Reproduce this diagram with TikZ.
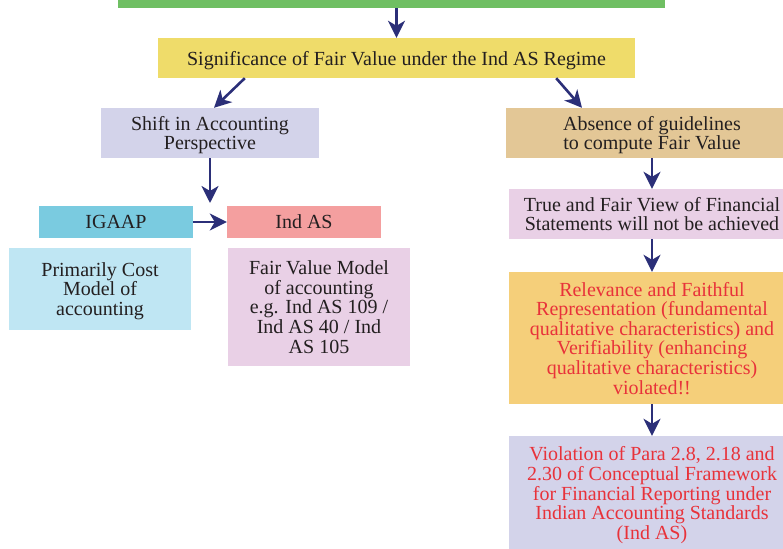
\documentclass[tikz,border=0pt]{standalone}
\usepackage{fontspec}
\setmainfont{Liberation Serif}
\usetikzlibrary{arrows.meta}
\begin{document}
\begin{tikzpicture}[x=1pt,y=-1pt,font=\fontsize{20}{19.6}\selectfont,
  box/.style={inner sep=0pt,align=center,text=inkgrey,text depth=0pt},
  redbox/.style={box,text=alertred},
  link/.style={draw=arrownavy,line width=2.6pt,-{Stealth[length=17pt,width=17pt,inset=5pt]}}]
  \definecolor{topgreen}{RGB}{111,191,99}
  \definecolor{regimegold}{RGB}{239,220,106}
  \definecolor{shiftlilac}{RGB}{211,211,234}
  \definecolor{absencetan}{RGB}{227,199,150}
  \definecolor{igaapblue}{RGB}{122,203,224}
  \definecolor{indaspink}{RGB}{244,159,159}
  \definecolor{costblue}{RGB}{191,230,243}
  \definecolor{modelmauve}{RGB}{233,208,230}
  \definecolor{relevanceorange}{RGB}{245,207,122}
  \definecolor{arrownavy}{RGB}{43,47,120}
  \definecolor{alertred}{RGB}{232,50,58}
  \definecolor{inkgrey}{RGB}{35,31,32}
  \useasboundingbox (0,0) rectangle (783,548);
  \clip (0,0) rectangle (783,548);
  \node[box,fill=topgreen,minimum width=547,minimum height=28] (topbar) at (391.5,-6) {};
  \node[box,fill=regimegold,minimum width=477,minimum height=40] (regime) at (396.5,58)
    {Significance of Fair Value under the Ind AS Regime};
  \node[box,fill=shiftlilac,minimum width=218,minimum height=50] (shift) at (210,133)
    {Shift in Accounting\\Perspective};
  \node[box,fill=absencetan,minimum width=292,minimum height=50] (absence) at (652,133)
    {Absence of guidelines\\to compute Fair Value};
  \node[box,fill=igaapblue,minimum width=154,minimum height=32] (igaap) at (116,222) {IGAAP};
  \node[box,fill=indaspink,minimum width=154,minimum height=32] (indas) at (304,222) {Ind AS};
  \node[box,fill=costblue,minimum width=182,minimum height=82] (cost) at (100,289)
    {Primarily Cost\\Model of\\accounting};
  \node[box,fill=modelmauve,minimum width=182,minimum height=118] (fvmodel) at (319,307)
    {Fair Value Model\\of accounting\\e.g. Ind AS 109 /\\Ind AS 40 / Ind\\AS 105};
  \node[box,fill=modelmauve,minimum width=286,minimum height=50] (truefair) at (652,214)
    {True and Fair View of Financial\\Statements will not be achieved};
  \node[redbox,fill=relevanceorange,minimum width=286,minimum height=132] (relevance) at (652,338)
    {Relevance and Faithful\\Representation (fundamental\\qualitative characteristics) and\\Verifiability (enhancing\\qualitative characteristics)\\violated!!};
  \node[redbox,fill=shiftlilac,minimum width=286,minimum height=114] (violation) at (652,493)
    {Violation of Para 2.8, 2.18 and\\2.30 of Conceptual Framework\\for Financial Reporting under\\Indian Accounting Standards\\(Ind AS)};
  \coordinate (fork) at (210,203);
  \draw[link] (topbar.south -| regime.north) -- (regime.north);
  \draw[link] ([xshift=87pt]regime.south west) -- ([xshift=4pt]shift.north);
  \draw[link] ([xshift=-79pt]regime.south east) -- ([xshift=-70pt]absence.north);
  \draw[link] (shift.south) -- (fork);
  \draw[link] (igaap) -- (indas);
  \draw[link] (absence) -- (truefair);
  \draw[link] (truefair) -- (relevance);
  \draw[link] (relevance) -- (violation);
\end{tikzpicture}
\end{document}
